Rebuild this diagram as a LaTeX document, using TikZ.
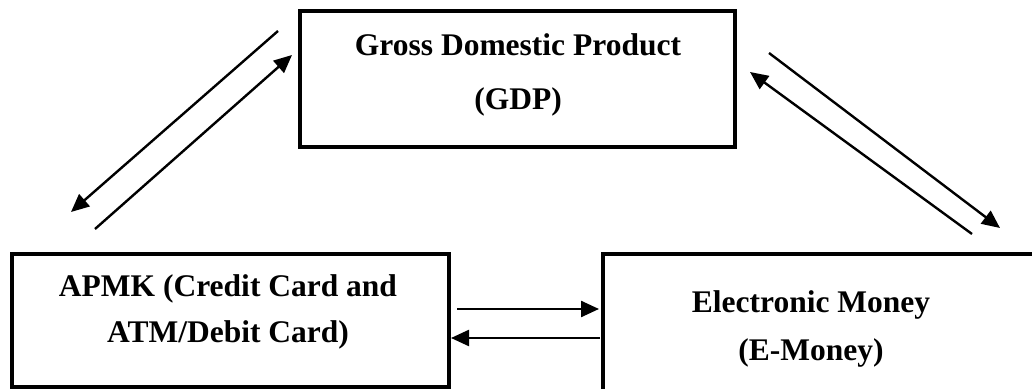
\documentclass[tikz,border=0pt]{standalone}
\usepackage{fontspec}
\setmainfont{Liberation Serif}
\usetikzlibrary{arrows.meta,positioning}
\tikzset{box/.style={draw=black,line width=1.6pt,inner sep=0pt},
 lbl/.style={align=center,font=\fontsize{15.75}{23}\selectfont\bfseries,inner sep=0pt},
 arr/.style={-{Triangle[length=9pt,width=8pt]},line width=1.2pt,draw=black}}

\begin{document}
\begin{tikzpicture}[x=0.5pt,y=-0.5pt]
\clip (0,0) rectangle (1032,389);
\node[box,minimum width=217.5pt,minimum height=68pt] (gdp) at (517.5,79) {};
\node[box,minimum width=218.5pt,minimum height=66.5pt] (apmk) at (230.5,320.5) {};
\node[box,minimum width=253.5pt,minimum height=93pt] (emoney) at (856.5,347) {};
\node[lbl,font=\fontsize{15.75}{27}\selectfont\bfseries] (gdptext) at (518,75) {Gross Domestic Product\\(GDP)};
\node[lbl] (apmktext) at (228,312) {APMK (Credit Card and\\ATM/Debit Card)};
\node[lbl,font=\fontsize{15.75}{24}\selectfont\bfseries] (emoneytext) at (811,329) {Electronic Money\\(E-Money)};
% arrow ends
\coordinate (a1) at (278,31);  \coordinate (a2) at (71,212);
\coordinate (b1) at (95,229);  \coordinate (b2) at (292,55);
\coordinate (c1) at (769,53);  \coordinate (c2) at (1000,228);
\coordinate (d1) at (972,234); \coordinate (d2) at (750,72);
\coordinate (e1) at (457,309); \coordinate (e2) at (599,309);
\coordinate (f1) at (600,338); \coordinate (f2) at (451,338);
\draw[arr] (a1)--(a2);
\draw[arr] (b1)--(b2);
\draw[arr] (c1)--(c2);
\draw[arr] (d1)--(d2);
\draw[arr] (e1)--(e2);
\draw[arr] (f1)--(f2);
\end{tikzpicture}
\end{document}
